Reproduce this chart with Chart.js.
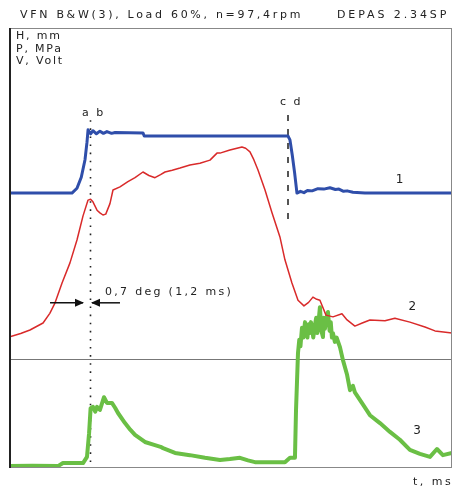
<!DOCTYPE html>
<html>
<head>
<meta charset="utf-8">
<script src="https://cdn.jsdelivr.net/npm/chart.js@4/dist/chart.umd.min.js"></script>
<style>
  body { margin: 0; background: #fff; }
  canvas { display: block; }
</style>
</head>
<body>
<canvas id="traceChart" width="453" height="488"></canvas>
<script>
// t in ms, vertical values in % of plot height
var T_MAX = 38;
var seriesNames = ['1', '2', '3'];

// 1 - needle lift H
var liftT = [0, 5.40, 5.83, 6.2, 6.52, 6.69, 6.78, 7.0, 7.2, 7.5, 7.8, 8.1, 8.4, 8.8, 9.1, 11.49, 11.6, 23.93, 24.10, 24.3, 24.5, 24.70, 25.0, 25.3, 25.6, 26.0, 26.5, 27.0, 27.53, 28.0, 28.3, 28.7, 29.0, 29.5, 30.53, 37.99];
var liftV = [62.4, 62.4, 63.5, 66, 70, 74, 76.8, 75.9, 76.6, 75.9, 76.5, 76.0, 76.4, 76.0, 76.2, 76.1, 75.4, 75.4, 74.5, 71, 67, 62.4, 62.8, 62.5, 63.0, 62.9, 63.4, 63.3, 63.6, 63.2, 63.3, 62.8, 62.9, 62.6, 62.4, 62.4];

// 2 - fuel pressure P
var presT = [0, 1.0, 1.8, 2.92, 3.5, 3.95, 4.55, 5.23, 5.83, 6.35, 6.78, 7.0, 7.20, 7.55, 7.80, 8.06, 8.3, 8.66, 8.92, 9.52, 10.2, 10.81, 11.49, 12.0, 12.52, 13.0, 13.38, 14.0, 14.67, 15.52, 16.38, 17.24, 17.84, 18.10, 18.95, 19.98, 20.3, 20.67, 21.0, 21.35, 21.96, 22.56, 23.24, 23.67, 24.27, 24.79, 25.30, 25.7, 26.07, 26.4, 26.67, 27.19, 27.79, 28.56, 29.0, 29.67, 30.3, 30.96, 32.25, 33.10, 34.39, 35.68, 36.54, 37.99];
var presV = [29.6, 30.4, 31.2, 32.8, 35, 37.4, 41.9, 46.5, 51.7, 57.2, 60.8, 61.0, 60.4, 58.5, 57.9, 57.4, 57.6, 60, 63.1, 63.8, 65, 65.9, 67.2, 66.4, 65.9, 66.6, 67.2, 67.6, 68.1, 68.8, 69.2, 69.9, 71.5, 71.5, 72.2, 72.9, 72.6, 71.8, 70.0, 67.7, 63.1, 57.9, 52.4, 47.2, 41.9, 38.0, 36.7, 37.5, 38.7, 38.2, 38.0, 34.6, 34.2, 34.9, 33.5, 32.1, 32.8, 33.5, 33.3, 33.9, 33.0, 31.9, 31.0, 30.5];

// 3 - sensor voltage V
var voltT = [0, 2, 4.2, 4.63, 5.0, 6.35, 6.69, 6.87, 7.0, 7.2, 7.4, 7.55, 7.8, 8.15, 8.40, 8.83, 9.1, 9.35, 9.95, 10.4, 10.81, 11.66, 12.52, 13.0, 13.21, 14.24, 15.52, 16.81, 18.10, 18.95, 19.81, 20.5, 21.10, 22.38, 23.67, 24.10, 24.53, 24.62, 24.79, 24.9, 25.0, 25.13, 25.25, 25.39, 25.5, 25.6, 25.7, 25.81, 25.9, 26.0, 26.1, 26.24, 26.35, 26.45, 26.55, 26.67, 26.8, 26.93, 27.0, 27.1, 27.2, 27.36, 27.5, 27.6, 27.7, 27.79, 27.95, 28.1, 28.39, 28.64, 29.0, 29.25, 29.5, 29.67, 30.27, 30.96, 31.82, 32.68, 33.53, 34.39, 35.25, 36.11, 36.71, 37.22, 37.99];
var voltV = [0.2, 0.3, 0.2, 0.9, 0.9, 0.9, 2.3, 7.7, 13.4, 13.7, 12.6, 13.7, 13.0, 15.9, 14.6, 14.6, 13.5, 12.3, 10.0, 8.5, 7.3, 5.7, 5.0, 4.6, 4.3, 3.2, 2.7, 2.1, 1.6, 1.8, 2.1, 1.5, 1.1, 1.1, 1.1, 2.1, 2.1, 13.0, 26.0, 29, 27.5, 31.7, 29.5, 33.0, 30.5, 29.5, 32.5, 30.5, 33, 31.5, 29.5, 32.3, 34, 30.5, 33, 36.4, 31, 29.6, 34, 31.5, 33.5, 35.3, 31, 33, 29.5, 30.5, 28.5, 29.5, 27.3, 24.4, 21, 17.5, 18.5, 17.0, 14.6, 11.8, 10.0, 8.0, 6.2, 3.9, 3.0, 2.3, 4.1, 2.7, 3.2];

// markers
var markA = 6.95;      // dotted line a/b
var markC = 23.93;     // dashed line c/d
var separatorV = 24.6;

function pts(ts, vs) {
    var out = [];
    for (var i = 0; i < ts.length; i++) out.push({ x: ts[i], y: vs[i] });
    return out;
}

var TXT = '#222';

function txt(ctx, s, x, y, size, spacing, align) {
    ctx.font = size + 'px "DejaVu Sans", Verdana, sans-serif';
    ctx.letterSpacing = spacing + 'px';
    ctx.fillStyle = TXT;
    ctx.textAlign = align || 'left';
    ctx.textBaseline = 'middle';
    ctx.fillText(s, x, y);
}

function arrow(ctx, x1, x2, y) {
    ctx.strokeStyle = '#111';
    ctx.fillStyle = '#111';
    ctx.lineWidth = 1.5;
    ctx.beginPath();
    ctx.moveTo(x1, y);
    ctx.lineTo(x2, y);
    ctx.stroke();
    var d = x2 > x1 ? 1 : -1;
    ctx.beginPath();
    ctx.moveTo(x2 + d, y);
    ctx.lineTo(x2 - d * 8, y - 4);
    ctx.lineTo(x2 - d * 8, y + 4);
    ctx.closePath();
    ctx.fill();
}

var decor = {
    id: 'decor',
    beforeDatasetsDraw: function(chart) {
        var ctx = chart.ctx, a = chart.chartArea;
        var xs = chart.scales.x, ys = chart.scales.y;
        ctx.save();
        // separator
        ctx.strokeStyle = '#777';
        ctx.lineWidth = 1;
        var sy = Math.round(ys.getPixelForValue(separatorV)) + 0.5;
        ctx.beginPath();
        ctx.moveTo(a.left, sy);
        ctx.lineTo(a.right, sy);
        ctx.stroke();
        // dotted line
        var ax = Math.round(xs.getPixelForValue(markA)) + 0.5;
        ctx.strokeStyle = '#222';
        ctx.lineWidth = 1.6;
        ctx.setLineDash([1.6, 6.5]);
        ctx.beginPath();
        ctx.moveTo(ax, ys.getPixelForValue(79));
        ctx.lineTo(ax, a.bottom);
        ctx.stroke();
        // dashed line
        var cx = Math.round(xs.getPixelForValue(markC));
        ctx.strokeStyle = '#555';
        ctx.lineWidth = 2;
        ctx.setLineDash([6, 8]);
        ctx.beginPath();
        ctx.moveTo(cx, ys.getPixelForValue(80.2));
        ctx.lineTo(cx, ys.getPixelForValue(54.7));
        ctx.stroke();
        ctx.restore();
    },
    afterDraw: function(chart) {
        var ctx = chart.ctx, a = chart.chartArea;
        var xs = chart.scales.x, ys = chart.scales.y;
        ctx.save();
        // frame
        ctx.strokeStyle = '#888';
        ctx.lineWidth = 1;
        ctx.strokeRect(a.left + 0.5, a.top + 0.5, a.right - a.left - 1, a.bottom - a.top);
        ctx.strokeStyle = '#222';
        ctx.lineWidth = 2;
        ctx.beginPath();
        ctx.moveTo(a.left + 1, a.top);
        ctx.lineTo(a.left + 1, a.bottom + 1);
        ctx.stroke();

        txt(ctx, 'VFN B&W(3), Load 60%, n=97,4rpm', 20, 15, 11, 2.7);
        txt(ctx, 'DEPAS 2.34SP', 337, 15, 11, 2.9);
        txt(ctx, 'H, mm', 16, 36, 11, 1.8);
        txt(ctx, 'P, MPa', 16, 49, 11, 1.8);
        txt(ctx, 'V, Volt', 16, 61, 11, 1.8);
        txt(ctx, 'a b', xs.getPixelForValue(markA) - 8, 113, 11, 2);
        txt(ctx, 'c d', xs.getPixelForValue(markC) - 8, 102, 11, 2);
        txt(ctx, '0,7 deg (1,2 ms)', 105, 292, 11, 2.3);
        txt(ctx, seriesNames[0], xs.getPixelForValue(33.5), ys.getPixelForValue(65.5), 12, 0, 'center');
        txt(ctx, seriesNames[1], xs.getPixelForValue(34.6), ys.getPixelForValue(36.5), 12, 0, 'center');
        txt(ctx, seriesNames[2], xs.getPixelForValue(35.0), ys.getPixelForValue(8.2), 12, 0, 'center');
        txt(ctx, 't, ms', 413, 482, 11, 2.5);

        var ay = ys.getPixelForValue(37.4);
        arrow(ctx, xs.getPixelForValue(3.52), xs.getPixelForValue(6.35), ay);
        arrow(ctx, xs.getPixelForValue(9.52), xs.getPixelForValue(7.12), ay);
        ctx.restore();
    }
};

new Chart(document.getElementById('traceChart'), {
    type: 'line',
    data: {
        datasets: [{
            label: seriesNames[0],
            data: pts(liftT, liftV),
            borderColor: '#2f4eaa',
            borderWidth: 3
        }, {
            label: seriesNames[1],
            data: pts(presT, presV),
            borderColor: '#d92a2a',
            borderWidth: 1.5
        }, {
            label: seriesNames[2],
            data: pts(voltT, voltV),
            borderColor: '#6abf45',
            borderWidth: 4
        }]
    },
    options: {
        responsive: false,
        animation: false,
        layout: { padding: { left: 9, top: 28, right: 1, bottom: 21 } },
        elements: {
            point: { radius: 0 },
            line: { tension: 0, borderJoinStyle: 'round', borderCapStyle: 'butt' }
        },
        plugins: { legend: { display: false }, tooltip: { enabled: false } },
        scales: {
            x: { type: 'linear', min: 0, max: T_MAX, display: false },
            y: { type: 'linear', min: 0, max: 100, display: false }
        }
    },
    plugins: [decor]
});
</script>
</body>
</html>
